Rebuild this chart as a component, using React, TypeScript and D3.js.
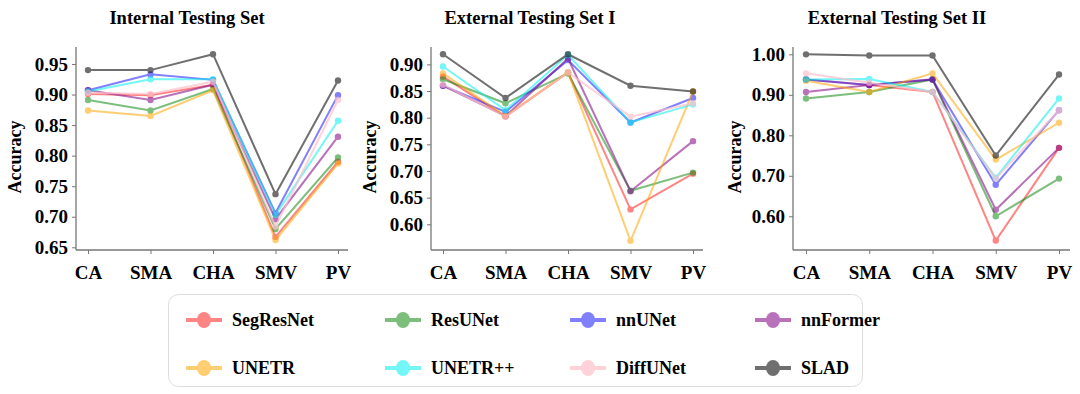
import React, { useEffect, useRef } from 'react';
import * as d3 from 'd3';

const categories = ['CA', 'SMA', 'CHA', 'SMV', 'PV'];
const models = ['SegResNet', 'ResUNet', 'nnUNet', 'nnFormer', 'UNETR', 'UNETR++', 'DiffUNet', 'SLAD'];
const colors = ['#ff2020', '#128a12', '#1a1aff', '#800080', '#ffa500', '#00f0f0', '#ffc0cb', '#111111'];
const opacities = [0.55, 0.55, 0.55, 0.55, 0.55, 0.55, 0.7, 0.6];

// values per model, order of categories
const internalSet = [
  [0.901, 0.899, 0.916, 0.667, 0.790],
  [0.891, 0.874, 0.909, 0.680, 0.797],
  [0.907, 0.933, 0.924, 0.706, 0.899],
  [0.907, 0.891, 0.916, 0.696, 0.831],
  [0.874, 0.865, 0.907, 0.662, 0.787],
  [0.905, 0.925, 0.925, 0.703, 0.857],
  [0.903, 0.901, 0.921, 0.684, 0.891],
  [0.940, 0.940, 0.966, 0.737, 0.923],
];
const externalSetI = [
  [0.877, 0.802, 0.885, 0.628, 0.695],
  [0.872, 0.827, 0.883, 0.663, 0.697],
  [0.860, 0.811, 0.908, 0.791, 0.837],
  [0.860, 0.803, 0.911, 0.662, 0.756],
  [0.883, 0.803, 0.885, 0.569, 0.849],
  [0.896, 0.814, 0.918, 0.791, 0.825],
  [0.862, 0.802, 0.885, 0.802, 0.827],
  [0.919, 0.837, 0.919, 0.860, 0.849],
];
const externalSetII = [
  [0.938, 0.924, 0.907, 0.540, 0.769],
  [0.891, 0.907, 0.938, 0.600, 0.693],
  [0.938, 0.924, 0.938, 0.678, 0.862],
  [0.907, 0.924, 0.938, 0.616, 0.769],
  [0.935, 0.907, 0.953, 0.740, 0.831],
  [0.938, 0.939, 0.907, 0.695, 0.891],
  [0.953, 0.930, 0.907, 0.693, 0.862],
  [1.000, 0.997, 0.997, 0.750, 0.950],
];

const titles = ['Internal Testing Set', 'External Testing Set I', 'External Testing Set II'];
const yTicks1 = [0.65, 0.70, 0.75, 0.80, 0.85, 0.90, 0.95];
const yTicks2 = [0.60, 0.65, 0.70, 0.75, 0.80, 0.85, 0.90];
const yTicks3 = [0.60, 0.70, 0.80, 0.90, 1.00];

const font = '"Liberation Serif", "Times New Roman", serif';

export default function App() {
  const svgRef = useRef<SVGSVGElement>(null);

  useEffect(() => {
    const svg = d3.select(svgRef.current);
    svg.selectAll('*').remove();

    const panels = [
      { data: internalSet, ticks: yTicks1, x0: 76, x1: 348, p0: 88, p1: 338, domain: [0.6456, 0.9778], titleX: 187, labelX: 15 },
      { data: externalSetI, ticks: yTicks2, x0: 431, x1: 703, p0: 443, p1: 693, domain: [0.5518, 0.9326], titleX: 530, labelX: 370 },
      { data: externalSetII, ticks: yTicks3, x0: 793, x1: 1070, p0: 806, p1: 1059, domain: [0.5167, 1.0181], titleX: 897, labelX: 735 },
    ];
    const yTop = 47;
    const yBottom = 250;

    panels.forEach((p, pi) => {
      const g = svg.append('g');
      const x = d3.scalePoint<string>().domain(categories).range([p.p0, p.p1]);
      const y = d3.scaleLinear().domain(p.domain).range([yBottom, yTop]);

      // y axis
      const yAxis = g.append('g')
        .attr('transform', `translate(${p.x0},0)`)
        .call(d3.axisLeft(y).tickValues(p.ticks).tickFormat(d3.format('.2f')).tickSize(4).tickPadding(4).tickSizeOuter(0));
      // x axis
      const xAxis = g.append('g')
        .attr('transform', `translate(0,${yBottom})`)
        .call(d3.axisBottom(x).tickSize(4).tickPadding(12).tickSizeOuter(0));
      xAxis.select('.domain').attr('d', `M${p.x0},0H${p.x1}`);
      yAxis.select('.domain').attr('d', `M0,${yBottom}V${yTop}`);
      [xAxis, yAxis].forEach(a => {
        a.select('.domain').attr('stroke', '#777').attr('stroke-width', 1.3);
        a.selectAll('.tick line').attr('stroke', '#777');
        a.selectAll('.tick text')
          .attr('fill', '#000')
          .style('font-family', font)
          .style('font-weight', 'bold')
          .style('font-size', '19px');
      });

      g.append('text')
        .attr('x', p.titleX).attr('y', 24)
        .attr('text-anchor', 'middle')
        .style('font-family', font).style('font-weight', 'bold').style('font-size', '18.5px')
        .text(titles[pi]);

      g.append('text')
        .attr('transform', `translate(${p.labelX + 6},157) rotate(-90)`)
        .attr('text-anchor', 'middle')
        .style('font-family', font).style('font-weight', 'bold').style('font-size', '18px')
        .text('Accuracy');

      const line = d3.line<number>().x((d, i) => x(categories[i])!).y(d => y(d));
      p.data.forEach((vals, mi) => {
        const s = g.append('g').attr('opacity', opacities[mi]);
        s.append('path').attr('d', line(vals)).attr('fill', 'none')
          .attr('stroke', colors[mi]).attr('stroke-width', 2);
        s.selectAll('circle').data(vals).enter().append('circle')
          .attr('cx', (d, i) => x(categories[i])!)
          .attr('cy', d => y(d))
          .attr('r', 3.2)
          .attr('fill', colors[mi]);
      });
    });

    // legend
    const lg = svg.append('g');
    lg.append('rect')
      .attr('x', 168.5).attr('y', 294.5).attr('width', 694).attr('height', 92)
      .attr('rx', 10).attr('fill', 'white').attr('stroke', '#ddd').attr('stroke-width', 1);
    const colX = [186, 385, 570, 755];
    const rowY = [320, 368];
    models.forEach((m, i) => {
      const cx = colX[i % 4];
      const cy = rowY[Math.floor(i / 4)];
      const item = lg.append('g');
      const mk = item.append('g').attr('opacity', opacities[i]);
      mk.append('line').attr('x1', cx).attr('x2', cx + 36).attr('y1', cy).attr('y2', cy)
        .attr('stroke', colors[i]).attr('stroke-width', 4);
      mk.append('ellipse').attr('cx', cx + 18).attr('cy', cy).attr('rx', 7).attr('ry', 8).attr('fill', colors[i]);
      item.append('text')
        .attr('x', cx + 46).attr('y', cy + 6)
        .style('font-family', font).style('font-weight', 'bold').style('font-size', '18px')
        .text(m);
    });
  }, []);

  return (
    <svg ref={svgRef} width={1080} height={394}
      style={{ position: 'absolute', left: 0, top: 0, background: 'white' }} />
  );
}
